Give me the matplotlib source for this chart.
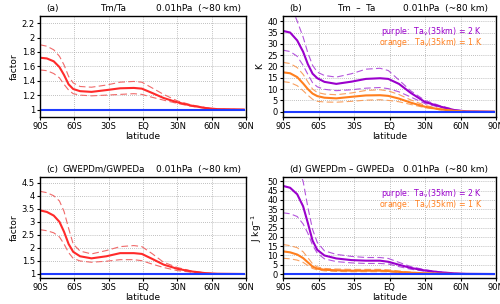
import matplotlib
matplotlib.use("Agg")
import matplotlib.pyplot as plt
from matplotlib.ticker import MultipleLocator

plt.rcParams['font.family'] = ['DejaVu Sans']

lat = [-90, -84, -78, -73, -69, -65, -61, -55, -45, -32, -20, -8, -1, 8, 18, 30, 42, 55, 65, 88]

# (a) Tm/Ta
a_mean = [1.72, 1.71, 1.67, 1.59, 1.48, 1.35, 1.285, 1.255, 1.245, 1.27, 1.295, 1.30, 1.29, 1.23, 1.16, 1.10, 1.055, 1.02, 1.005, 1.0]
a_up = [1.90, 1.88, 1.83, 1.74, 1.62, 1.46, 1.37, 1.32, 1.31, 1.34, 1.38, 1.39, 1.38, 1.30, 1.21, 1.12, 1.065, 1.025, 1.005, 1.0]
a_lo = [1.55, 1.54, 1.50, 1.44, 1.35, 1.27, 1.22, 1.20, 1.19, 1.20, 1.21, 1.22, 1.21, 1.17, 1.13, 1.085, 1.045, 1.015, 1.003, 1.0]

# (b) Tm - Ta
b_p_mean = [35.7, 35.0, 31.5, 26.5, 21.0, 16.8, 14.8, 13.2, 12.3, 13.3, 14.5, 14.8, 14.5, 12.3, 8.3, 4.3, 2.4, 0.7, 0.15, 0]
b_p_up = [53, 48, 40, 33, 26, 20.5, 17.5, 16.0, 15.3, 16.8, 18.8, 19.2, 18.2, 14.0, 9.2, 5.0, 2.8, 0.9, 0.2, 0]
b_p_lo = [27.2, 26.6, 24.5, 20.5, 16.5, 12.8, 11.0, 9.9, 9.3, 9.7, 10.4, 10.7, 10.2, 8.8, 6.5, 3.6, 2.0, 0.5, 0.1, 0]
b_o_mean = [17.4, 17.0, 15.3, 12.5, 10.0, 8.0, 6.9, 6.2, 5.9, 6.6, 7.2, 7.3, 7.0, 5.8, 4.0, 2.2, 1.1, 0.35, 0.08, 0]
b_o_up = [21.8, 21.3, 19.5, 16.5, 13.2, 10.0, 8.5, 7.8, 7.5, 8.3, 9.4, 9.7, 9.2, 7.6, 5.2, 2.8, 1.4, 0.4, 0.1, 0]
b_o_lo = [13.3, 12.9, 11.5, 9.3, 7.3, 5.5, 4.6, 4.3, 4.2, 4.6, 5.1, 5.3, 5.0, 4.4, 3.2, 1.8, 0.9, 0.3, 0.05, 0]

# (c) GWEPDm/GWPEDa
c_mean = [3.44, 3.38, 3.24, 3.0, 2.62, 2.15, 1.85, 1.68, 1.60, 1.68, 1.80, 1.80, 1.77, 1.58, 1.36, 1.20, 1.10, 1.03, 1.01, 1.0]
c_up = [4.17, 4.12, 4.0, 3.8, 3.4, 2.75, 2.15, 1.88, 1.77, 1.90, 2.05, 2.09, 2.05, 1.78, 1.45, 1.25, 1.12, 1.04, 1.01, 1.0]
c_lo = [2.70, 2.66, 2.58, 2.42, 2.15, 1.82, 1.60, 1.50, 1.45, 1.49, 1.55, 1.55, 1.51, 1.38, 1.25, 1.13, 1.07, 1.02, 1.005, 1.0]

# (d) GWEPDm - GWPEDa
d_p_mean = [47.5, 46.5, 43, 36.5, 27.5, 18, 13, 10, 8.4, 7.5, 7.2, 7.2, 6.6, 5.0, 3.3, 1.9, 1.0, 0.35, 0.1, 0]
d_p_up = [70, 64, 58, 50, 36, 24, 17, 12.5, 10.6, 9.5, 8.9, 8.9, 8.4, 6.3, 4.0, 2.3, 1.2, 0.4, 0.12, 0]
d_p_lo = [33, 32.5, 31, 27, 22, 15.5, 11.2, 8.2, 6.7, 6.0, 5.7, 5.7, 5.4, 4.0, 2.6, 1.5, 0.7, 0.25, 0.07, 0]
d_o_mean = [12.2, 11.7, 10.5, 8.6, 6.3, 4.0, 2.9, 2.3, 2.0, 1.8, 1.8, 1.8, 1.6, 1.15, 0.75, 0.4, 0.2, 0.07, 0.02, 0]
d_o_up = [15.9, 15.3, 14.2, 12.0, 8.8, 5.5, 3.8, 3.0, 2.7, 2.5, 2.5, 2.5, 2.3, 1.65, 1.0, 0.55, 0.28, 0.1, 0.03, 0]
d_o_lo = [8.5, 8.2, 7.5, 6.3, 4.6, 3.0, 2.2, 1.7, 1.4, 1.25, 1.25, 1.25, 1.2, 0.85, 0.5, 0.28, 0.14, 0.05, 0.01, 0]

xticks = [-90, -60, -30, 0, 30, 60, 90]
xticklabels = ['90S', '60S', '30S', 'EQ', '30N', '60N', '90N']
ref_lat = [-90, 88]

RED = '#ff2a2a'
RED_L = '#f06a6a'
PUR = '#9a00cc'
PUR_L = '#b455dd'
ORA = '#ff7f1e'
ORA_L = '#f8a060'
BLUE = '#1f3cff'

fig = plt.figure(figsize=(5.0, 3.04), dpi=100)
W, H = 500.0, 304.0

def make_ax(l, r, t, b):
    return fig.add_axes([l / W, 1 - b / H, (r - l) / W, (b - t) / H])

axa = make_ax(40, 246, 16, 116.7)
axb = make_ax(283, 496, 16, 116.7)
axc = make_ax(40, 246, 177, 278.3)
axd = make_ax(283, 496, 177, 278.3)

FS = 6
TFONT = ['Liberation Sans Narrow', 'DejaVu Sans']

def style(ax, ylim, ystep, ytfmt, ylabel, lab, title, tx, rx):
    ax.set_xlim(-90, 90)
    ax.set_ylim(*ylim)
    ax.set_xticks(xticks)
    ax.set_xticklabels(xticklabels)
    ax.yaxis.set_major_locator(MultipleLocator(ystep))
    ax.yaxis.set_major_formatter(plt.FuncFormatter(ytfmt))
    ax.tick_params(axis='both', labelsize=FS, length=2.5, width=0.8, direction='out', pad=1.2)
    ax.grid(True, color='#aaaaaa', linestyle=(0, (1, 1.5)), linewidth=0.6)
    ax.set_axisbelow(True)
    for s in ax.spines.values():
        s.set_linewidth(1.0)
    ax.set_xlabel('latitude', fontsize=FS + 0.5, labelpad=0.5)
    ax.set_ylabel(ylabel, fontsize=FS + 0.5, labelpad=2)
    ax.text(0.028, 1.03, lab, transform=ax.transAxes, fontsize=FS + 0.5, ha='left', va='bottom',
            family=TFONT)
    ax.text(tx, 1.03, title, transform=ax.transAxes, fontsize=FS + 0.3, ha='center', va='bottom',
            family=TFONT)
    ax.text(rx, 1.03, '0.01hPa  (~80 km)', transform=ax.transAxes, fontsize=FS + 0.5, ha='right',
            va='bottom', family=TFONT)

def fmt_dec(v, p):
    s = ('%.1f' % v)
    if s.endswith('.0'):
        s = s[:-2]
    return s

def fmt_int(v, p):
    return '%d' % round(v)

DASH = (0, (6, 3))

def legend_texts(ax, y1, y2):
    ax.text(0.934, y1, 'purple:  Ta$_\\mathregular{v}$(35km) = 2 K', transform=ax.transAxes,
            fontsize=FS - 0.3, color=PUR, ha='right', va='center')
    ax.text(0.934, y2, 'orange:  Ta$_\\mathregular{v}$(35km) = 1 K', transform=ax.transAxes,
            fontsize=FS - 0.3, color=ORA, ha='right', va='center')

# (a)
axa.plot(lat, a_up, color=RED_L, lw=0.8, ls=DASH)
axa.plot(lat, a_lo, color=RED_L, lw=0.8, ls=DASH)
axa.plot(lat, a_mean, color=RED, lw=1.5)
axa.plot(ref_lat, [1, 1], color=BLUE, lw=1.5)
style(axa, (0.9, 2.3), 0.2, fmt_dec, 'factor', '(a)', 'Tm/Ta', 0.355, 0.976)

# (b)
for up, lo, mn, c, cl in [(b_p_up, b_p_lo, b_p_mean, PUR, PUR_L), (b_o_up, b_o_lo, b_o_mean, ORA, ORA_L)]:
    axb.plot(lat, up, color=cl, lw=0.8, ls=DASH)
    axb.plot(lat, lo, color=cl, lw=0.8, ls=DASH)
    axb.plot(lat, mn, color=c, lw=1.5)
axb.plot(ref_lat, [0, 0], color=BLUE, lw=1.5)
style(axb, (-2.2, 42.3), 5, fmt_int, 'K', '(b)', 'Tm  \u2013  Ta', 0.346, 0.962)
legend_texts(axb, 0.85, 0.735)

# (c)
axc.plot(lat, c_up, color=RED_L, lw=0.8, ls=DASH)
axc.plot(lat, c_lo, color=RED_L, lw=0.8, ls=DASH)
axc.plot(lat, c_mean, color=RED, lw=1.5)
axc.plot(ref_lat, [1, 1], color=BLUE, lw=1.5)
style(axc, (0.835, 4.72), 0.5, fmt_dec, 'factor', '(c)', 'GWEPDm/GWPEDa', 0.31, 0.976)

# (d)
for up, lo, mn, c, cl in [(d_p_up, d_p_lo, d_p_mean, PUR, PUR_L), (d_o_up, d_o_lo, d_o_mean, ORA, ORA_L)]:
    axd.plot(lat, up, color=cl, lw=0.8, ls=DASH)
    axd.plot(lat, lo, color=cl, lw=0.8, ls=DASH)
    axd.plot(lat, mn, color=c, lw=1.5)
axd.plot(ref_lat, [0, 0], color=BLUE, lw=1.5)
style(axd, (-2.3, 52.3), 5, fmt_int, 'J kg$^{-1}$', '(d)', 'GWEPDm \u2013 GWPEDa', 0.315, 0.962)
legend_texts(axd, 0.842, 0.727)

fig.savefig('out.png', dpi=100)
